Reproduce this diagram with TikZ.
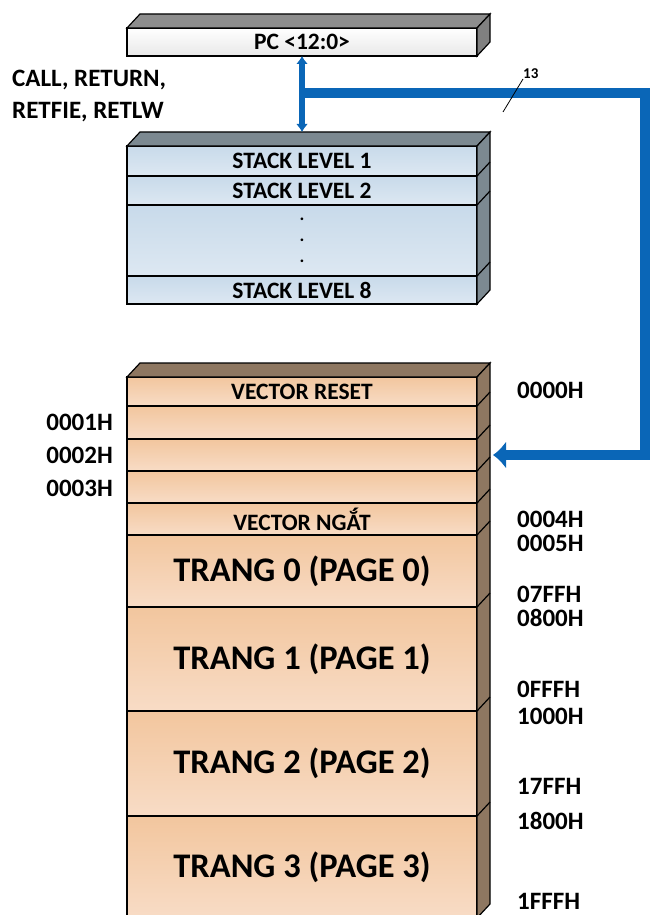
\documentclass[tikz,border=0pt]{standalone}
\usepackage{fontspec}
\setmainfont{Carlito}
\usetikzlibrary{arrows.meta,positioning,calc}
\definecolor{pgtop}{HTML}{F2C69E}
\definecolor{pgbot}{HTML}{F8DCC6}
\definecolor{pgside}{HTML}{8E7761}
\definecolor{sktop}{HTML}{C8DAEA}
\definecolor{skbot}{HTML}{DDE8F2}
\definecolor{skside}{HTML}{7C8991}
\definecolor{pcside}{HTML}{808080}
\definecolor{busblue}{HTML}{0A66B7}

\begin{document}
\begin{tikzpicture}[x=1pt,y=-1pt,node distance=0pt,>=Latex,
    cell/.style={draw,line width=1.4pt,minimum width=350pt,inner sep=0pt,outer sep=0pt,font=\fontsize{23.5}{25}\selectfont\bfseries},
    pgcell/.style={cell,line width=2pt,top color=pgtop,bottom color=pgbot},
    skcell/.style={cell,top color=sktop,bottom color=skbot},
    addr/.style={inner sep=0pt,font=\fontsize{25}{27}\selectfont\bfseries},
    bigtxt/.style={font=\fontsize{34.5}{38}\selectfont\bfseries}]
    \useasboundingbox (0,0) rectangle (649,915);

    % PC register
    \node[cell,top color=white,bottom color=black!9,minimum height=28pt,anchor=north west] (pc) at (127,28) {PC <12:0>};
    \filldraw[fill=pcside!90,line width=1.2pt] (pc.north west) -- ++(13,-14) -- ($(pc.north east)+(13,-14)$) -- (pc.north east) -- cycle;
    \filldraw[fill=pcside,line width=1.2pt] (pc.north east) -- ++(13,-14) -- ($(pc.south east)+(13,-14)$) -- (pc.south east) -- cycle;

    % stack
    \node[skcell,minimum height=30pt,anchor=north west] (s1) at (127,146) {STACK LEVEL 1};
    \node[skcell,minimum height=29pt,below=of s1] (s2) {STACK LEVEL 2};
    \node[skcell,minimum height=71pt,below=of s2,align=center,font=\fontsize{18}{21}\selectfont\bfseries] (sdots) {.\\.\\.};
    \node[skcell,minimum height=28pt,below=of sdots] (s8) {STACK LEVEL 8};
    \filldraw[fill=skside,line width=1.2pt] (s1.north west) -- ++(13,-14) -- ($(s1.north east)+(13,-14)$) -- (s1.north east) -- cycle;
    \filldraw[fill=skside,line width=1.2pt] (s1.north east) -- ++(13,-14) -- ($(s8.south east)+(13,-14)$) -- (s8.south east) -- cycle;
    \foreach \r in {s1,s2,sdots}
      \draw[line width=1.2pt] (\r.south east) -- ++(13,-14);

    % program memory
    \node[pgcell,minimum height=29pt,anchor=north west] (reset) at (127,377) {VECTOR RESET};
    \node[pgcell,minimum height=33pt,below=of reset] (a1) {};
    \node[pgcell,minimum height=32pt,below=of a1] (a2) {};
    \node[pgcell,minimum height=32pt,below=of a2] (a3) {};
    \node[pgcell,minimum height=32pt,below=of a3] (ngat) {VECTOR NGẮT};
    \node[pgcell,bigtxt,minimum height=72pt,below=of ngat] (p0) {TRANG 0 (PAGE 0)};
    \node[pgcell,bigtxt,minimum height=104pt,below=of p0] (p1) {TRANG 1 (PAGE 1)};
    \node[pgcell,bigtxt,minimum height=105pt,below=of p1] (p2) {TRANG 2 (PAGE 2)};
    \node[pgcell,bigtxt,minimum height=102pt,below=of p2] (p3) {TRANG 3 (PAGE 3)};
    \filldraw[fill=pgside,line width=1.2pt] (reset.north west) -- ++(13,-14) -- ($(reset.north east)+(13,-14)$) -- (reset.north east) -- cycle;
    \filldraw[fill=pgside,line width=1.2pt] (reset.north east) -- ++(13,-14) -- ($(p3.south east)+(13,-14)$) -- (p3.south east) -- cycle;
    \foreach \r in {reset,a1,a2,a3,ngat,p0,p1,p2}
      \draw[line width=1.2pt] (\r.south east) -- ++(13,-14);

    % bus
    \coordinate (tap) at (303,93);
    \coordinate (turn) at (645,455);
    \draw[busblue,line width=6pt,{Latex[length=8pt,width=12pt]}-{Latex[length=8pt,width=12pt]}] (pc.south) -- ($(s1.north)+(0,-14)$);
    \draw[busblue,line width=10pt,-{Latex[length=13pt,width=28pt]}] (tap) -| (turn) -- ($(a2.east)+(16,0)$);
    \draw[line width=0.8pt] (503,112) -- (523,79) coordinate (tick);
    \node[font=\fontsize{15}{15}\selectfont\bfseries,inner sep=0pt,anchor=south west] (nbits) at (tick) {13};

    % labels
    \node[align=left,anchor=west,font=\fontsize{25}{32}\selectfont\bfseries,inner sep=0pt] (calls) at (12,96) {CALL, RETURN,\\RETFIE, RETLW};
    \foreach \t/\y in {0001H/422,0002H/455,0003H/488}
      \node[addr,anchor=east] (l\t) at (113,\y) {\t};
    \foreach \t/\y in {0000H/390,0004H/519,0005H/543,07FFH/594,0800H/618,0FFFH/689,1000H/716,17FFH/786,1800H/821,1FFFH/901}
      \node[addr,anchor=west] (r\t) at (517,\y) {\t};
\end{tikzpicture}
\end{document}
